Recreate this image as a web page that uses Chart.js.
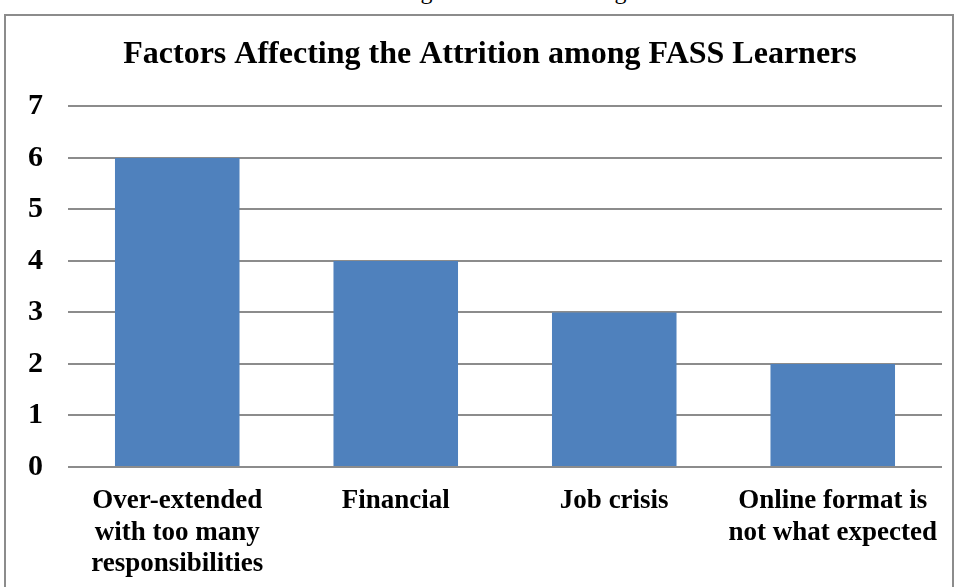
<!DOCTYPE html>
<html lang="en">
<head>
    <meta charset="UTF-8">
    <title>Factors Affecting the Attrition among FASS Learners</title>
    <script src="https://cdn.jsdelivr.net/npm/chart.js@4.4.1/dist/chart.umd.min.js"></script>
    <style>
        html, body { margin: 0; padding: 0; background: #fff; overflow: hidden; }
        .page { position: relative; width: 960px; height: 587px; overflow: hidden; }
        .caption {
            position: absolute; left: 0; top: -21px; width: 960px; text-align: center;
            font: 24px "Liberation Serif", "Times New Roman", serif; line-height: 24px; color: #000;
        }
        .frame {
            position: absolute; left: 4px; top: 14px; width: 950px; height: 600px;
            border: 2px solid #8c8c8c; box-sizing: border-box;
        }
        .chart-box { position: absolute; left: 0; top: 0; width: 960px; height: 587px; }
    </style>
</head>
<body>
    <div class="page">
        <div class="caption">Table 4: Factors Affecting the Attrition among FASS Learners</div>
        <div class="frame"></div>
        <div class="chart-box">
            <canvas id="chart"></canvas>
        </div>
    </div>

    <script>
        const chartTitle = 'Factors Affecting the Attrition among FASS Learners';
        const categories = [
            ['Over-extended', 'with too many', 'responsibilities'],
            ['Financial'],
            ['Job crisis'],
            ['Online format is', 'not what expected']
        ];
        const counts = [6, 4, 3, 2];
        const yTicks = [0, 1, 2, 3, 4, 5, 6, 7];

        const serif = '"Liberation Serif", "Times New Roman", serif';

        // the left padding keeps the title centred like the original, so let the
        // y labels spill into it instead of being clipped at the scale edge
        const labelRoom = {
            id: 'labelRoom',
            afterLayout(chart) { chart.scales.y.left = 0; }
        };

        const ctx = document.getElementById('chart').getContext('2d');
        new Chart(ctx, {
            type: 'bar',
            data: {
                labels: categories,
                datasets: [{
                    data: counts,
                    backgroundColor: '#4f81bd',
                    borderWidth: 0,
                    categoryPercentage: 0.57,
                    barPercentage: 1
                }]
            },
            plugins: [labelRoom],
            options: {
                responsive: true,
                maintainAspectRatio: false,
                animation: false,
                layout: { padding: { left: 38, right: 18, top: 0, bottom: 0 } },
                plugins: {
                    legend: { display: false },
                    tooltip: { enabled: false },
                    title: {
                        display: true,
                        text: chartTitle,
                        color: '#000',
                        font: { family: serif, size: 32, weight: 'bold' },
                        padding: { top: 36, bottom: 32 }
                    }
                },
                scales: {
                    y: {
                        min: 0,
                        max: 7,
                        afterBuildTicks: (scale) => { scale.ticks = yTicks.map(v => ({ value: v })); },
                        afterFit: (scale) => { scale.width = 30; },
                        border: { display: false },
                        grid: { color: '#8c8c8c', lineWidth: 2, drawTicks: false },
                        ticks: {
                            color: '#000',
                            padding: 25,
                            font: { family: serif, size: 30, weight: 'bold' }
                        }
                    },
                    x: {
                        afterFit: (scale) => { scale.height = 120; },
                        border: { display: false },
                        grid: { display: false, drawTicks: false },
                        ticks: {
                            color: '#000',
                            padding: 19,
                            maxRotation: 0,
                            autoSkip: false,
                            font: { family: serif, size: 27, weight: 'bold', lineHeight: 1.15 }
                        }
                    }
                }
            }
        });
    </script>
</body>
</html>
